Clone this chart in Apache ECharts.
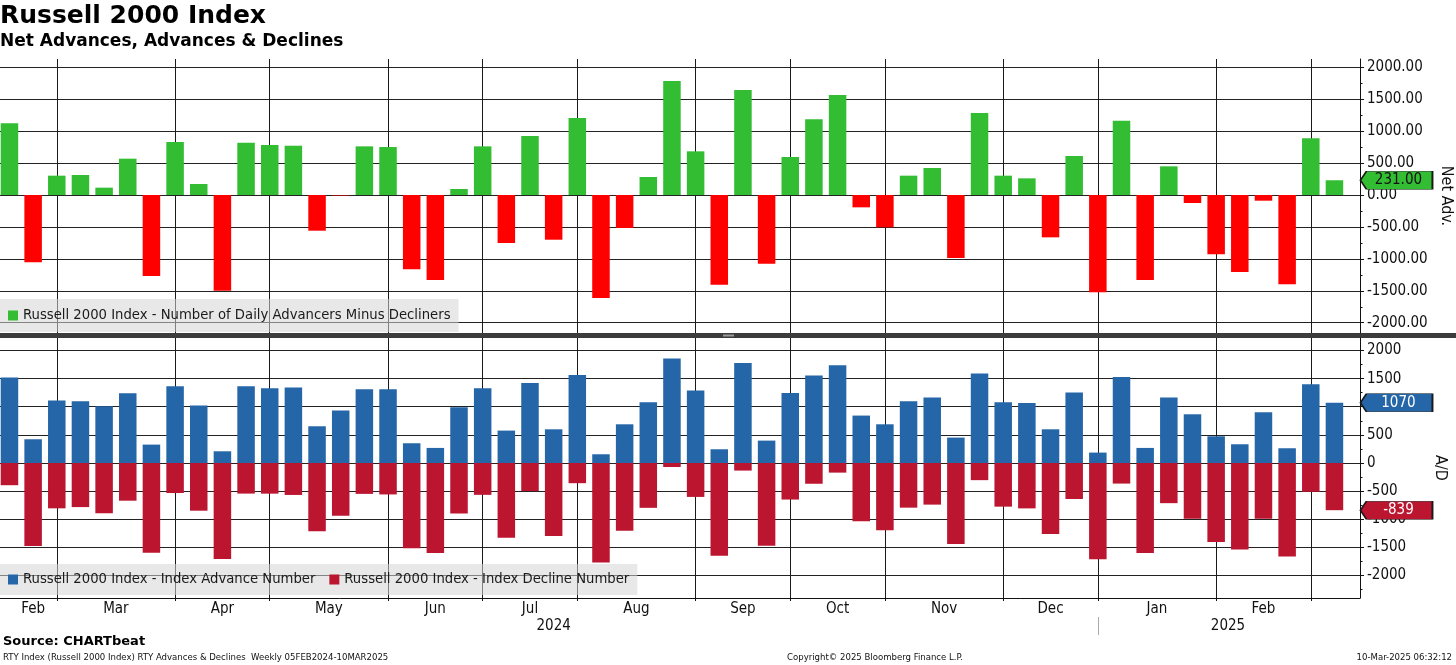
<!DOCTYPE html>
<html lang="en">
<head>
<meta charset="UTF-8">
<title>Russell 2000 Index - Net Advances, Advances & Declines</title>
<script src="https://cdn.jsdelivr.net/npm/echarts@6.0.0/dist/echarts.min.js"></script>
<style>
  html, body { margin: 0; padding: 0; background: #fff; }
  #chart { width: 1456px; height: 665px; }
</style>
</head>
<body>
<div id="chart"></div>
<script>
// weekly bars (week-ending dates, last one is the current partial week)
var weeks = [
  '2024-02-16', '2024-02-23', '2024-03-01', '2024-03-08', '2024-03-15', '2024-03-22', '2024-03-29',
  '2024-04-05', '2024-04-12', '2024-04-19', '2024-04-26', '2024-05-03', '2024-05-10', '2024-05-17',
  '2024-05-24', '2024-05-31', '2024-06-07', '2024-06-14', '2024-06-21', '2024-06-28', '2024-07-05',
  '2024-07-12', '2024-07-19', '2024-07-26', '2024-08-02', '2024-08-09', '2024-08-16', '2024-08-23',
  '2024-08-30', '2024-09-06', '2024-09-13', '2024-09-20', '2024-09-27', '2024-10-04', '2024-10-11',
  '2024-10-18', '2024-10-25', '2024-11-01', '2024-11-08', '2024-11-15', '2024-11-22', '2024-11-29',
  '2024-12-06', '2024-12-13', '2024-12-20', '2024-12-27', '2025-01-03', '2025-01-10', '2025-01-17',
  '2025-01-24', '2025-01-31', '2025-02-07', '2025-02-14', '2025-02-21', '2025-02-28', '2025-03-07',
  '2025-03-10'
];

// Number of daily advancers minus decliners
var netAdv = [
  1123, -1054, 303, 313, 115, 569, -1269, 830, 172, -1498,
  820, 783, 772, -559, -8, 762, 752, -1164, -1331, 94,
  762, -752, 924, -700, 1206, -1613, -517, 282, 1785, 684,
  -1405, 1644, -1075, 595, 1185, 1566, -193, -506, 303, 423,
  -987, 1284, 303, 261, -663, 611, -1524, 1164, -1331, 449,
  -125, -929, -1206, -89, -1399, 887, 231
];

// Index advance number
var advances = [
  1518, 422, 1109, 1097, 1008, 1239, 327, 1364, 1020, 208,
  1364, 1328, 1340, 653, 931, 1311, 1311, 351, 268, 991,
  1328, 576, 1423, 599, 1565, 155, 688, 1079, 1856, 1287,
  244, 1779, 398, 1245, 1554, 1737, 843, 688, 1097, 1163,
  452, 1589, 1079, 1068, 599, 1251, 185, 1530, 268, 1163,
  866, 475, 333, 902, 262, 1399, 1070
];

// Index decline number
var declines = [
  395, 1476, 806, 784, 893, 670, 1596, 534, 848, 1706,
  544, 545, 568, 1212, 939, 549, 559, 1515, 1599, 897,
  566, 1328, 499, 1299, 359, 1768, 1205, 797, 71, 603,
  1649, 135, 1473, 650, 369, 171, 1036, 1194, 794, 740,
  1439, 305, 776, 807, 1262, 640, 1709, 366, 1599, 714,
  991, 1404, 1539, 991, 1661, 512, 839
];

var valueTicks = [-2000, -1500, -1000, -500, 0, 500, 1000, 1500, 2000];
var minorTicks = [-2250, -1750, -1250, -750, -250, 250, 750, 1250, 1750];
var monthNames = ['Jan', 'Feb', 'Mar', 'Apr', 'May', 'Jun', 'Jul', 'Aug', 'Sep', 'Oct', 'Nov', 'Dec'];

var netName = 'Russell 2000 Index - Number of Daily Advancers Minus Decliners';
var advName = 'Russell 2000 Index - Index Advance Number';
var decName = 'Russell 2000 Index - Index Decline Number';

var GREEN = '#33bd33';
var RED = '#ff0000';
var BLUE = '#2566a8';
var DARKRED = '#bb1530';
var FONT = "'DejaVu Sans Condensed', 'DejaVu Sans', sans-serif";

// month / year boundaries from the week dates
var monthStart = [], monthMid = [], monthText = {};
var yearStart = [], yearMid = [], yearText = {};
var runM = 0, runY = 0;
for (var i = 1; i < weeks.length; i++) {
  if (weeks[i].slice(0, 7) !== weeks[i - 1].slice(0, 7)) {
    monthStart.push(i);
    var m = (runM + i) / 2;
    monthMid.push(m);
    monthText[m] = monthNames[+weeks[runM].slice(5, 7) - 1];
    runM = i;
  }
  if (weeks[i].slice(0, 4) !== weeks[i - 1].slice(0, 4)) {
    yearStart.push(i);
    var y = (runY + i) / 2;
    yearMid.push(y);
    yearText[y] = weeks[runY].slice(0, 4);
    runY = i;
  }
}
var yLast = (runY + weeks.length) / 2;
yearMid.push(yLast);
yearText[yLast] = weeks[runY].slice(0, 4);

var last = weeks.length - 1;
var X_MIN = -0.4, X_MAX = 57.08;
var NET_MIN = -2161, NET_MAX = 2130;
var AD_MIN = -2400, AD_MAX = 2222;

function inRange(arr, lo, hi) {
  return arr.filter(function (v) { return v > lo && v < hi; });
}

function tag(value, color, textColor, fmt) {
  return {
    silent: true,
    symbol: 'path://M0,9 L6,0 L72,0 L72,18 L6,18 Z',
    symbolSize: [72, 18],
    symbolOffset: [62, 0],
    itemStyle: { color: color, borderColor: '#1a1a1a', borderWidth: 1 },
    label: {
      show: true, position: 'inside', offset: [2, 0],
      formatter: function (p) { return fmt(p.value); },
      color: textColor, fontFamily: FONT, fontSize: 15
    },
    data: [{ coord: [last, value], value: value }]
  };
}

function valueAxis(gridIndex, min, max, name, fmt) {
  return {
    type: 'value', gridIndex: gridIndex, position: 'right', min: min, max: max,
    name: name, nameLocation: 'middle', nameRotate: -90, nameGap: 72,
    nameTextStyle: { fontFamily: FONT, fontSize: 16, color: '#111' },
    axisLine: { show: true, onZero: false, lineStyle: { color: '#111', width: 1 } },
    axisTick: { show: true, length: 4, customValues: valueTicks, lineStyle: { color: '#111' } },
    axisLabel: {
      show: true, margin: 7, customValues: valueTicks, formatter: fmt,
      fontFamily: FONT, fontSize: 15, color: '#111'
    },
    splitLine: { show: true, lineStyle: { color: '#222', width: 1 } }
  };
}

function minorAxis(gridIndex, min, max) {
  return {
    type: 'value', gridIndex: gridIndex, position: 'right', min: min, max: max,
    axisLine: { show: false, onZero: false },
    axisTick: { show: true, length: 2.5, customValues: inRange(minorTicks, min, max), lineStyle: { color: '#111' } },
    axisLabel: { show: false },
    splitLine: { show: false }
  };
}

var fmtNet = function (v) { return Number(v).toFixed(2); };
var fmtAD = function (v) { return String(v); };

var chart = echarts.init(document.getElementById('chart'));

var option = {
  animation: false,
  backgroundColor: '#fff',
  title: [
    { text: 'Russell 2000 Index', left: 0, top: 4, padding: 0,
      textStyle: { fontFamily: 'DejaVu Sans', fontWeight: 'bold', fontSize: 25, color: '#000' } },
    { text: 'Net Advances, Advances & Declines', left: 0, top: 33, padding: 0,
      textStyle: { fontFamily: 'DejaVu Sans', fontWeight: 'bold', fontSize: 17, color: '#000' } },
    { text: 'Source: CHARTbeat', left: 3, top: 635, padding: 0,
      textStyle: { fontFamily: 'DejaVu Sans', fontWeight: 'bold', fontSize: 13, color: '#000' } },
    { text: 'RTY Index (Russell 2000 Index) RTY Advances & Declines  Weekly 05FEB2024-10MAR2025', left: 3, top: 653, padding: 0,
      textStyle: { fontFamily: FONT, fontWeight: 'normal', fontSize: 9.5, color: '#111' } },
    { text: 'Copyright\u00a9 2025 Bloomberg Finance L.P.', left: 787, top: 653, padding: 0,
      textStyle: { fontFamily: FONT, fontWeight: 'normal', fontSize: 9.5, color: '#111' } },
    { text: '10-Mar-2025 06:32:12', right: 4, top: 653, padding: 0,
      textStyle: { fontFamily: FONT, fontWeight: 'normal', fontSize: 9.5, color: '#111' } }
  ],
  legend: [
    {
      data: [netName], left: 0, top: 299, padding: [9, 8, 9, 8],
      icon: 'rect', itemWidth: 10, itemHeight: 10,
      backgroundColor: 'rgba(214,214,214,0.55)', selectedMode: false,
      textStyle: { fontFamily: FONT, fontSize: 14.7, color: '#1a1a1a' }
    },
    {
      data: [advName, decName], left: 0, top: 564, padding: [8, 8, 8, 8], itemGap: 14,
      icon: 'rect', itemWidth: 10, itemHeight: 10,
      backgroundColor: 'rgba(214,214,214,0.55)', selectedMode: false,
      textStyle: { fontFamily: FONT, fontSize: 14.7, color: '#1a1a1a' }
    }
  ],
  grid: [
    { left: 0, top: 59, width: 1360, height: 274, outerBoundsMode: 'none', containLabel: false },
    { left: 0, top: 338, width: 1360, height: 260, outerBoundsMode: 'none', containLabel: false }
  ],
  xAxis: [
    {
      type: 'value', gridIndex: 0, min: X_MIN, max: X_MAX, position: 'bottom',
      axisLine: { show: false, onZero: false },
      axisTick: { show: false, customValues: monthStart },
      axisLabel: { show: false },
      splitLine: { show: true, lineStyle: { color: '#1a1a1a', width: 1 } }
    },
    {
      type: 'value', gridIndex: 1, min: X_MIN, max: X_MAX, position: 'bottom',
      axisLine: { show: true, onZero: false, lineStyle: { color: '#111', width: 1 } },
      axisTick: { show: true, length: 3, customValues: monthStart, lineStyle: { color: '#111' } },
      axisLabel: {
        show: true, margin: 4, customValues: monthMid,
        formatter: function (v) { return monthText[v] || ''; },
        fontFamily: FONT, fontSize: 15, color: '#111'
      },
      splitLine: { show: true, lineStyle: { color: '#1a1a1a', width: 1 } }
    },
    {
      type: 'value', gridIndex: 1, min: X_MIN, max: X_MAX, position: 'bottom', offset: 19,
      axisLine: { show: false, onZero: false },
      axisTick: { show: true, length: 18, customValues: yearStart, lineStyle: { color: '#aaa' } },
      axisLabel: {
        show: true, margin: 2, customValues: yearMid,
        formatter: function (v) { return yearText[v] || ''; },
        fontFamily: FONT, fontSize: 15, color: '#111'
      },
      splitLine: { show: false }
    }
  ],
  yAxis: [
    valueAxis(0, NET_MIN, NET_MAX, 'Net Adv.', fmtNet),
    minorAxis(0, NET_MIN, NET_MAX),
    valueAxis(1, AD_MIN, AD_MAX, 'A/D', fmtAD),
    minorAxis(1, AD_MIN, AD_MAX)
  ],
  graphic: [
    { type: 'rect', silent: true, shape: { x: 0, y: 333, width: 1456, height: 5 }, style: { fill: '#3c3c3c' } },
    { type: 'rect', silent: true, shape: { x: 723, y: 334.5, width: 11, height: 2 }, style: { fill: '#9a9a9a' } }
  ],
  series: [
    {
      name: netName, type: 'bar', xAxisIndex: 0, yAxisIndex: 0,
      barWidth: '74%', itemStyle: { color: GREEN },
      data: netAdv.map(function (v, i) {
        return v < 0 ? { value: [i, v], itemStyle: { color: RED } } : { value: [i, v] };
      }),
      markPoint: tag(netAdv[last], GREEN, '#111', fmtNet)
    },
    {
      name: advName, type: 'bar', xAxisIndex: 1, yAxisIndex: 2, stack: 'ad',
      barWidth: '74%', itemStyle: { color: BLUE },
      data: advances.map(function (v, i) { return [i, v]; }),
      markPoint: tag(advances[last], BLUE, '#fff', fmtAD)
    },
    {
      name: decName, type: 'bar', xAxisIndex: 1, yAxisIndex: 2, stack: 'ad',
      barWidth: '74%', itemStyle: { color: DARKRED },
      data: declines.map(function (v, i) { return [i, -v]; }),
      markPoint: tag(-declines[last], DARKRED, '#fff', fmtAD)
    }
  ]
};

chart.setOption(option);
</script>
</body>
</html>
